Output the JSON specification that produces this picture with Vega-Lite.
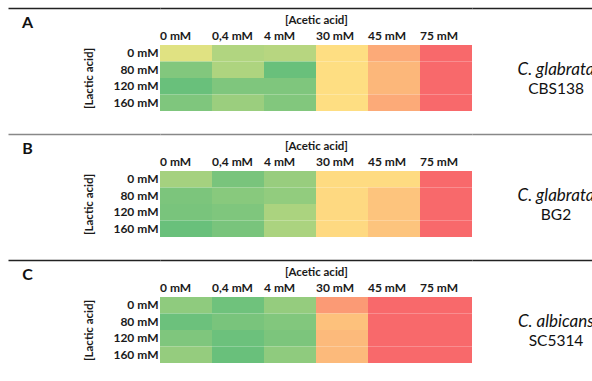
{
  "$schema": "https://vega.github.io/schema/vega-lite/v6.json",
  "padding": {"left": 8, "top": 8, "right": 0, "bottom": 10},
  "background": "white",
  "config": {
    "view": {"stroke": null},
    "font": "Lato",
    "axis": {"labelColor": "#1a1a1a", "titleColor": "#1a1a1a", "grid": false}
  },
  "datasets": {
    "cells": [
      {"panel":"A","acetic":"0 mM","lactic":"0 mM","value":40},{"panel":"A","acetic":"0,4 mM","lactic":"0 mM","value":25},{"panel":"A","acetic":"4 mM","lactic":"0 mM","value":27},{"panel":"A","acetic":"30 mM","lactic":"0 mM","value":55},{"panel":"A","acetic":"45 mM","lactic":"0 mM","value":75},{"panel":"A","acetic":"75 mM","lactic":"0 mM","value":100},
      {"panel":"A","acetic":"0 mM","lactic":"80 mM","value":10},{"panel":"A","acetic":"0,4 mM","lactic":"80 mM","value":24},{"panel":"A","acetic":"4 mM","lactic":"80 mM","value":2},{"panel":"A","acetic":"30 mM","lactic":"80 mM","value":55},{"panel":"A","acetic":"45 mM","lactic":"80 mM","value":70},{"panel":"A","acetic":"75 mM","lactic":"80 mM","value":100},
      {"panel":"A","acetic":"0 mM","lactic":"120 mM","value":2},{"panel":"A","acetic":"0,4 mM","lactic":"120 mM","value":9},{"panel":"A","acetic":"4 mM","lactic":"120 mM","value":9},{"panel":"A","acetic":"30 mM","lactic":"120 mM","value":55},{"panel":"A","acetic":"45 mM","lactic":"120 mM","value":70},{"panel":"A","acetic":"75 mM","lactic":"120 mM","value":100},
      {"panel":"A","acetic":"0 mM","lactic":"160 mM","value":9},{"panel":"A","acetic":"0,4 mM","lactic":"160 mM","value":18},{"panel":"A","acetic":"4 mM","lactic":"160 mM","value":10},{"panel":"A","acetic":"30 mM","lactic":"160 mM","value":55},{"panel":"A","acetic":"45 mM","lactic":"160 mM","value":75},{"panel":"A","acetic":"75 mM","lactic":"160 mM","value":100},
      {"panel":"B","acetic":"0 mM","lactic":"0 mM","value":21},{"panel":"B","acetic":"0,4 mM","lactic":"0 mM","value":7},{"panel":"B","acetic":"4 mM","lactic":"0 mM","value":17},{"panel":"B","acetic":"30 mM","lactic":"0 mM","value":56},{"panel":"B","acetic":"45 mM","lactic":"0 mM","value":56},{"panel":"B","acetic":"75 mM","lactic":"0 mM","value":100},
      {"panel":"B","acetic":"0 mM","lactic":"80 mM","value":8},{"panel":"B","acetic":"0,4 mM","lactic":"80 mM","value":12},{"panel":"B","acetic":"4 mM","lactic":"80 mM","value":15},{"panel":"B","acetic":"30 mM","lactic":"80 mM","value":57},{"panel":"B","acetic":"45 mM","lactic":"80 mM","value":65},{"panel":"B","acetic":"75 mM","lactic":"80 mM","value":100},
      {"panel":"B","acetic":"0 mM","lactic":"120 mM","value":7},{"panel":"B","acetic":"0,4 mM","lactic":"120 mM","value":9},{"panel":"B","acetic":"4 mM","lactic":"120 mM","value":23},{"panel":"B","acetic":"30 mM","lactic":"120 mM","value":57},{"panel":"B","acetic":"45 mM","lactic":"120 mM","value":65},{"panel":"B","acetic":"75 mM","lactic":"120 mM","value":100},
      {"panel":"B","acetic":"0 mM","lactic":"160 mM","value":2},{"panel":"B","acetic":"0,4 mM","lactic":"160 mM","value":7},{"panel":"B","acetic":"4 mM","lactic":"160 mM","value":23},{"panel":"B","acetic":"30 mM","lactic":"160 mM","value":57},{"panel":"B","acetic":"45 mM","lactic":"160 mM","value":65},{"panel":"B","acetic":"75 mM","lactic":"160 mM","value":100},
      {"panel":"C","acetic":"0 mM","lactic":"0 mM","value":14},{"panel":"C","acetic":"0,4 mM","lactic":"0 mM","value":4},{"panel":"C","acetic":"4 mM","lactic":"0 mM","value":16},{"panel":"C","acetic":"30 mM","lactic":"0 mM","value":81},{"panel":"C","acetic":"45 mM","lactic":"0 mM","value":100},{"panel":"C","acetic":"75 mM","lactic":"0 mM","value":100},
      {"panel":"C","acetic":"0 mM","lactic":"80 mM","value":3},{"panel":"C","acetic":"0,4 mM","lactic":"80 mM","value":7},{"panel":"C","acetic":"4 mM","lactic":"80 mM","value":10},{"panel":"C","acetic":"30 mM","lactic":"80 mM","value":66},{"panel":"C","acetic":"45 mM","lactic":"80 mM","value":100},{"panel":"C","acetic":"75 mM","lactic":"80 mM","value":100},
      {"panel":"C","acetic":"0 mM","lactic":"120 mM","value":9},{"panel":"C","acetic":"0,4 mM","lactic":"120 mM","value":3},{"panel":"C","acetic":"4 mM","lactic":"120 mM","value":8},{"panel":"C","acetic":"30 mM","lactic":"120 mM","value":69},{"panel":"C","acetic":"45 mM","lactic":"120 mM","value":100},{"panel":"C","acetic":"75 mM","lactic":"120 mM","value":100},
      {"panel":"C","acetic":"0 mM","lactic":"160 mM","value":16},{"panel":"C","acetic":"0,4 mM","lactic":"160 mM","value":2},{"panel":"C","acetic":"4 mM","lactic":"160 mM","value":14},{"panel":"C","acetic":"30 mM","lactic":"160 mM","value":69},{"panel":"C","acetic":"45 mM","lactic":"160 mM","value":100},{"panel":"C","acetic":"75 mM","lactic":"160 mM","value":100}
    ],
    "panels": [{"panel":"A"},{"panel":"B"},{"panel":"C"}],
    "labels": [
      {"panel":"A","line":1,"txt":"C. glabrata"},{"panel":"A","line":2,"txt":"CBS138"},
      {"panel":"B","line":1,"txt":"C. glabrata"},{"panel":"B","line":2,"txt":"BG2"},
      {"panel":"C","line":1,"txt":"C. albicans"},{"panel":"C","line":2,"txt":"SC5314"}
    ]
  },
  "columns": 3,
  "spacing": {"row": 23, "column": 0},
  "bounds": "flush",
  "concat": [
    {
      "width": 152, "height": 103,
      "data": {"name": "panels"},
      "transform": [{"filter": "datum.panel === 'A'"}],
      "mark": {"type": "text", "fontSize": 16, "fontWeight": "bold", "font": "Lato", "color": "#111"},
      "encoding": {
        "text": {"field": "panel"},
        "x": {"field": "panel", "type": "nominal", "scale": {"align": 0.128}, "axis": {"orient": "top", "domainColor": "#222", "domainWidth": 1.3, "labels": false, "ticks": false, "title": null}},
        "y": {"field": "panel", "type": "nominal", "scale": {"align": 0.141}, "axis": null}
      }
    },
    {
      "width": 312, "height": 103,
      "data": {"name": "cells"},
      "transform": [{"filter": "datum.panel === 'A'"}],
      "layer": [
        {
          "mark": {"type": "rect"},
          "encoding": {
            "x": {"field": "acetic", "type": "ordinal", "sort": ["0 mM","0,4 mM","4 mM","30 mM","45 mM","75 mM"], "scale": {"paddingInner": 0, "paddingOuter": 0},
              "axis": {"orient": "top", "offset": -37, "domain": false, "ticks": false, "labelOffset": -26, "labelAlign": "left", "labelAngle": 0, "labelPadding": 3, "labelFont": "Lato", "labelFontWeight": "bold", "labelFontSize": 12, "title": "[Acetic acid]", "titleFont": "Lato", "titleFontSize": 11.5, "titleFontWeight": "bold", "titlePadding": 4}},
            "y": {"field": "lactic", "type": "ordinal", "sort": ["0 mM","80 mM","120 mM","160 mM"], "scale": {"range": [37, 103], "paddingInner": 0, "paddingOuter": 0},
              "axis": {"orient": "left", "domain": false, "ticks": false, "labelPadding": 2, "labelFont": "Lato", "labelFontWeight": "bold", "labelFontSize": 12, "title": "[Lactic acid]", "titleFont": "Lato", "titleFontSize": 11.5, "titleFontWeight": "bold", "titlePadding": 18}},
            "color": {"field": "value", "type": "quantitative", "scale": {"domain": [0, 50, 100], "range": ["#63BE7B", "#FFEB84", "#F8696B"], "interpolate": "rgb"}, "legend": null}
          }
        },
        {
          "mark": {"type": "rect", "opacity": 0},
          "encoding": {
            "x": {"field": "acetic", "type": "ordinal", "sort": ["0 mM","0,4 mM","4 mM","30 mM","45 mM","75 mM"],
              "axis": {"orient": "top", "domainColor": "#222", "domainWidth": 1.3, "labels": false, "ticks": false, "title": null}}
          }
        }
      ],
      "resolve": {"axis": {"x": "independent"}}
    },
    {
      "width": 120, "height": 103,
      "data": {"name": "labels"},
      "transform": [{"filter": "datum.panel === 'A'"}],
      "encoding": {
        "x": {"field": "panel", "type": "nominal", "scale": {"align": 0.7}, "axis": {"orient": "top", "domainColor": "#222", "domainWidth": 1.3, "labels": false, "ticks": false, "title": null}},
        "y": {"field": "line", "type": "ordinal", "scale": {"range": [62, 81], "padding": 0}, "axis": null},
        "text": {"field": "txt"}
      },
      "layer": [
        {"transform": [{"filter": "datum.line === 1"}], "mark": {"type": "text", "fontSize": 17, "fontStyle": "italic", "font": "Lato", "color": "#111", "clip": true}},
        {"transform": [{"filter": "datum.line === 2"}], "mark": {"type": "text", "fontSize": 15.5, "font": "Lato", "color": "#111", "clip": true}}
      ]
    },
    {
      "width": 152, "height": 103,
      "data": {"name": "panels"},
      "transform": [{"filter": "datum.panel === 'B'"}],
      "mark": {"type": "text", "fontSize": 16, "fontWeight": "bold", "font": "Lato", "color": "#111"},
      "encoding": {
        "text": {"field": "panel"},
        "x": {"field": "panel", "type": "nominal", "scale": {"align": 0.128}, "axis": {"orient": "top", "domainColor": "#888", "domainWidth": 1.3, "labels": false, "ticks": false, "title": null}},
        "y": {"field": "panel", "type": "nominal", "scale": {"align": 0.141}, "axis": null}
      }
    },
    {
      "width": 312, "height": 103,
      "data": {"name": "cells"},
      "transform": [{"filter": "datum.panel === 'B'"}],
      "layer": [
        {
          "mark": {"type": "rect"},
          "encoding": {
            "x": {"field": "acetic", "type": "ordinal", "sort": ["0 mM","0,4 mM","4 mM","30 mM","45 mM","75 mM"], "scale": {"paddingInner": 0, "paddingOuter": 0},
              "axis": {"orient": "top", "offset": -37, "domain": false, "ticks": false, "labelOffset": -26, "labelAlign": "left", "labelAngle": 0, "labelPadding": 3, "labelFont": "Lato", "labelFontWeight": "bold", "labelFontSize": 12, "title": "[Acetic acid]", "titleFont": "Lato", "titleFontSize": 11.5, "titleFontWeight": "bold", "titlePadding": 4}},
            "y": {"field": "lactic", "type": "ordinal", "sort": ["0 mM","80 mM","120 mM","160 mM"], "scale": {"range": [37, 103], "paddingInner": 0, "paddingOuter": 0},
              "axis": {"orient": "left", "domain": false, "ticks": false, "labelPadding": 2, "labelFont": "Lato", "labelFontWeight": "bold", "labelFontSize": 12, "title": "[Lactic acid]", "titleFont": "Lato", "titleFontSize": 11.5, "titleFontWeight": "bold", "titlePadding": 18}},
            "color": {"field": "value", "type": "quantitative", "scale": {"domain": [0, 50, 100], "range": ["#63BE7B", "#FFEB84", "#F8696B"], "interpolate": "rgb"}, "legend": null}
          }
        },
        {
          "mark": {"type": "rect", "opacity": 0},
          "encoding": {
            "x": {"field": "acetic", "type": "ordinal", "sort": ["0 mM","0,4 mM","4 mM","30 mM","45 mM","75 mM"],
              "axis": {"orient": "top", "domainColor": "#888", "domainWidth": 1.3, "labels": false, "ticks": false, "title": null}}
          }
        }
      ],
      "resolve": {"axis": {"x": "independent"}}
    },
    {
      "width": 120, "height": 103,
      "data": {"name": "labels"},
      "transform": [{"filter": "datum.panel === 'B'"}],
      "encoding": {
        "x": {"field": "panel", "type": "nominal", "scale": {"align": 0.7}, "axis": {"orient": "top", "domainColor": "#888", "domainWidth": 1.3, "labels": false, "ticks": false, "title": null}},
        "y": {"field": "line", "type": "ordinal", "scale": {"range": [62, 81], "padding": 0}, "axis": null},
        "text": {"field": "txt"}
      },
      "layer": [
        {"transform": [{"filter": "datum.line === 1"}], "mark": {"type": "text", "fontSize": 17, "fontStyle": "italic", "font": "Lato", "color": "#111", "clip": true}},
        {"transform": [{"filter": "datum.line === 2"}], "mark": {"type": "text", "fontSize": 15.5, "font": "Lato", "color": "#111", "clip": true}}
      ]
    },
    {
      "width": 152, "height": 103,
      "data": {"name": "panels"},
      "transform": [{"filter": "datum.panel === 'C'"}],
      "mark": {"type": "text", "fontSize": 16, "fontWeight": "bold", "font": "Lato", "color": "#111"},
      "encoding": {
        "text": {"field": "panel"},
        "x": {"field": "panel", "type": "nominal", "scale": {"align": 0.128}, "axis": {"orient": "top", "domainColor": "#222", "domainWidth": 1.3, "labels": false, "ticks": false, "title": null}},
        "y": {"field": "panel", "type": "nominal", "scale": {"align": 0.141}, "axis": null}
      }
    },
    {
      "width": 312, "height": 103,
      "data": {"name": "cells"},
      "transform": [{"filter": "datum.panel === 'C'"}],
      "layer": [
        {
          "mark": {"type": "rect"},
          "encoding": {
            "x": {"field": "acetic", "type": "ordinal", "sort": ["0 mM","0,4 mM","4 mM","30 mM","45 mM","75 mM"], "scale": {"paddingInner": 0, "paddingOuter": 0},
              "axis": {"orient": "top", "offset": -37, "domain": false, "ticks": false, "labelOffset": -26, "labelAlign": "left", "labelAngle": 0, "labelPadding": 3, "labelFont": "Lato", "labelFontWeight": "bold", "labelFontSize": 12, "title": "[Acetic acid]", "titleFont": "Lato", "titleFontSize": 11.5, "titleFontWeight": "bold", "titlePadding": 4}},
            "y": {"field": "lactic", "type": "ordinal", "sort": ["0 mM","80 mM","120 mM","160 mM"], "scale": {"range": [37, 103], "paddingInner": 0, "paddingOuter": 0},
              "axis": {"orient": "left", "domain": false, "ticks": false, "labelPadding": 2, "labelFont": "Lato", "labelFontWeight": "bold", "labelFontSize": 12, "title": "[Lactic acid]", "titleFont": "Lato", "titleFontSize": 11.5, "titleFontWeight": "bold", "titlePadding": 18}},
            "color": {"field": "value", "type": "quantitative", "scale": {"domain": [0, 50, 100], "range": ["#63BE7B", "#FFEB84", "#F8696B"], "interpolate": "rgb"}, "legend": null}
          }
        },
        {
          "mark": {"type": "rect", "opacity": 0},
          "encoding": {
            "x": {"field": "acetic", "type": "ordinal", "sort": ["0 mM","0,4 mM","4 mM","30 mM","45 mM","75 mM"],
              "axis": {"orient": "top", "domainColor": "#222", "domainWidth": 1.3, "labels": false, "ticks": false, "title": null}}
          }
        }
      ],
      "resolve": {"axis": {"x": "independent"}}
    },
    {
      "width": 120, "height": 103,
      "data": {"name": "labels"},
      "transform": [{"filter": "datum.panel === 'C'"}],
      "encoding": {
        "x": {"field": "panel", "type": "nominal", "scale": {"align": 0.7}, "axis": {"orient": "top", "domainColor": "#222", "domainWidth": 1.3, "labels": false, "ticks": false, "title": null}},
        "y": {"field": "line", "type": "ordinal", "scale": {"range": [62, 81], "padding": 0}, "axis": null},
        "text": {"field": "txt"}
      },
      "layer": [
        {"transform": [{"filter": "datum.line === 1"}], "mark": {"type": "text", "fontSize": 17, "fontStyle": "italic", "font": "Lato", "color": "#111", "clip": true}},
        {"transform": [{"filter": "datum.line === 2"}], "mark": {"type": "text", "fontSize": 15.5, "font": "Lato", "color": "#111", "clip": true}}
      ]
    }
  ]
}
